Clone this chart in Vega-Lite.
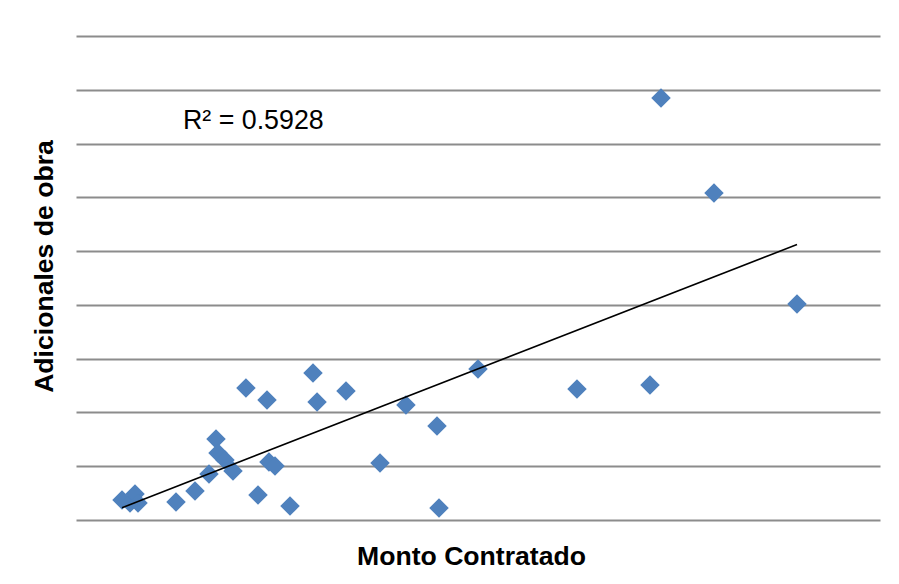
{
  "$schema": "https://vega.github.io/schema/vega-lite/v6.json",
  "width": 804,
  "height": 484,
  "autosize": "none",
  "padding": {"left": 76, "top": 36, "right": 19, "bottom": 64},
  "background": "white",
  "config": {"view": {"stroke": null}, "font": "Liberation Sans"},
  "data": {
    "values": [
      {"monto": 5.72, "adicional": 0.372},
      {"monto": 6.72, "adicional": 0.316},
      {"monto": 7.34, "adicional": 0.483},
      {"monto": 7.71, "adicional": 0.316},
      {"monto": 12.44, "adicional": 0.335},
      {"monto": 14.8, "adicional": 0.539},
      {"monto": 16.54, "adicional": 0.855},
      {"monto": 17.41, "adicional": 1.506},
      {"monto": 17.66, "adicional": 1.246},
      {"monto": 18.53, "adicional": 1.116},
      {"monto": 19.53, "adicional": 0.911},
      {"monto": 21.14, "adicional": 2.454},
      {"monto": 22.64, "adicional": 0.465},
      {"monto": 23.76, "adicional": 2.231},
      {"monto": 24.0, "adicional": 1.078},
      {"monto": 24.75, "adicional": 1.004},
      {"monto": 26.62, "adicional": 0.26},
      {"monto": 29.48, "adicional": 2.733},
      {"monto": 29.98, "adicional": 2.194},
      {"monto": 33.58, "adicional": 2.399},
      {"monto": 37.81, "adicional": 1.06},
      {"monto": 41.04, "adicional": 2.138},
      {"monto": 44.9, "adicional": 1.748},
      {"monto": 45.15, "adicional": 0.223},
      {"monto": 50.0, "adicional": 2.808},
      {"monto": 62.31, "adicional": 2.436},
      {"monto": 71.39, "adicional": 2.51},
      {"monto": 72.76, "adicional": 7.847},
      {"monto": 79.35, "adicional": 6.08},
      {"monto": 89.68, "adicional": 4.016}
    ]
  },
  "layer": [
    {
      "mark": {"type": "point", "shape": "diamond", "filled": true, "size": 380, "color": "#4F81BD", "opacity": 1},
      "encoding": {
        "x": {
          "field": "monto", "type": "quantitative",
          "scale": {"domain": [0, 100], "nice": false, "zero": false},
          "axis": {
            "title": "Monto Contratado", "labels": false, "ticks": false, "domain": false, "grid": false,
            "titleFont": "Liberation Sans", "titleFontSize": 26.6, "titleFontWeight": "bold", "titleColor": "#000000",
            "titleBaseline": "middle", "titleX": 395, "titleY": 36, "titleAnchor": "middle"
          }
        },
        "y": {
          "field": "adicional", "type": "quantitative",
          "scale": {"domain": [0, 9], "nice": false},
          "axis": {
            "title": "Adicionales de obra", "labels": false, "ticks": false, "domain": false, "grid": true,
            "values": [0, 1, 2, 3, 4, 5, 6, 7, 8, 9],
            "gridColor": "#8C8C8C", "gridWidth": 1.8, "gridOpacity": 1,
            "titleFont": "Liberation Sans", "titleFontSize": 26.6, "titleFontWeight": "bold", "titleColor": "#000000",
            "titleBaseline": "middle", "titleX": -32, "titleY": 230, "titleAngle": -90
          }
        }
      }
    },
    {
      "transform": [{"regression": "adicional", "on": "monto"}],
      "mark": {"type": "line", "color": "#000000", "strokeWidth": 1.6},
      "encoding": {
        "x": {"field": "monto", "type": "quantitative"},
        "y": {"field": "adicional", "type": "quantitative"}
      }
    },
    {
      "data": {"values": [{"monto": 13.3, "adicional": 7.42, "label": "R² = 0.5928"}]},
      "mark": {"type": "text", "align": "left", "baseline": "middle", "font": "Liberation Sans", "fontSize": 26.8, "color": "#000000"},
      "encoding": {
        "x": {"field": "monto", "type": "quantitative"},
        "y": {"field": "adicional", "type": "quantitative"},
        "text": {"field": "label"}
      }
    }
  ]
}
